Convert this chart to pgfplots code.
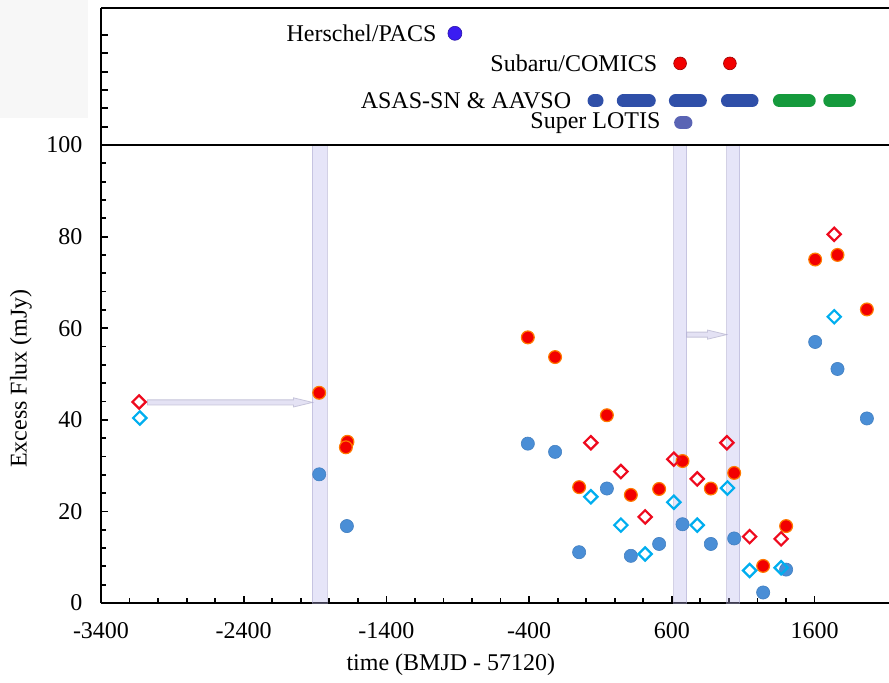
\documentclass[border=0pt]{standalone}
\usepackage{fontspec}
\setmainfont{Liberation Serif}
\usepackage{pgfplots}
\pgfplotsset{compat=1.18}
\usetikzlibrary{arrows.meta}

\definecolor{redc}{HTML}{F20000}
\definecolor{redcedge}{HTML}{FF7A00}
\definecolor{bluec}{HTML}{4A8ED6}
\definecolor{redd}{HTML}{EE0A1E}
\definecolor{cyand}{HTML}{00AEEF}
\definecolor{band}{HTML}{B8B4EC}
\definecolor{arrowfill}{HTML}{E4E2F4}
\definecolor{arrowedge}{HTML}{C6C4DA}
\definecolor{herschel}{HTML}{3A1CF2}
\definecolor{asas}{HTML}{2F4FA8}
\definecolor{aavso}{HTML}{159A3C}
\definecolor{lotis}{HTML}{5A64B4}

\begin{document}
\begin{tikzpicture}
\pgfplotsset{
  panel/.style={
    scale only axis, width=394pt,
    xmin=-3400, xmax=2122,
    axis x line=box, axis y line=left,
    axis line style={line width=1.4pt, -},
    tick align=inside,
    tick style={line width=0.9pt, black},
    major tick length=3.6pt, minor tick length=2.5pt,
    xtick pos=left, ytick pos=left,
    ticklabel style={font=\rmfamily\fontsize{12}{14}\selectfont},
    label style={font=\rmfamily\fontsize{12}{14}\selectfont},
    xticklabel={\pgfmathprintnumber[assume math mode=true, 1000 sep={}, fixed]{\tick}},
    yticklabel={\pgfmathprintnumber[assume math mode=true, 1000 sep={}, fixed]{\tick}},
  },
}

% main panel
\begin{axis}[panel, name=main, at={(0,0)}, anchor=south west,
  height=229pt, ymin=0, ymax=100,
  xtick={-3400,-2400,...,1600}, minor x tick num=4,
  ytick={0,20,...,100}, minor y tick num=4,
  xticklabel shift=6.3pt, yticklabel shift=5.8pt,
  xlabel={time (BMJD - 57120)},
  ylabel={Excess Flux (mJy)},
  xlabel style={at={([yshift=-31pt]axis description cs:0.444,0)}, anchor=center},
  ylabel style={at={([xshift=-40pt]axis description cs:0,0.49)}, anchor=center},
]
% arrows
\addplot[draw=arrowedge, fill=arrowfill, line width=0.4pt] coordinates {
  (-3074,44.35) (-2051,44.35) (-2051,44.8) (-1918,43.8) (-2051,42.8) (-2051,43.25) (-3074,43.25)} -- cycle;
\addplot[draw=arrowedge, fill=arrowfill, line width=0.4pt] coordinates {
  (705,59.15) (850,59.15) (850,59.6) (984,58.6) (850,57.6) (850,58.05) (705,58.05)} -- cycle;

% blue filled circles
\addplot[only marks, mark=*, mark size=3.3pt, mark options={fill=bluec, draw=bluec!90!black, line width=0.3pt}] coordinates {
  (-1871,28.1) (-1677,16.8) (-409,34.8) (-218,33.0) (145,25.0) (675,17.2)
  (511,12.9) (873.5,12.9) (1037,14.1) (-49.5,11.1) (313,10.3)
  (1604.5,57.0) (1761,51.1) (1967,40.3) (1401,7.3) (1240,2.3)};
% red filled circles
\addplot[only marks, mark=*, mark size=3.2pt, mark options={fill=redc, draw=redcedge, line width=0.6pt}] coordinates {
  (-1871,45.9) (-1673,35.2) (-1684,34.0) (-409,58.0) (-218,53.7) (145,41.0)
  (675,31.0) (-49.5,25.3) (313,23.6) (511,24.9) (873.5,25.0) (1037,28.4)
  (1604.5,75.0) (1761,76.0) (1967,64.1) (1401,16.8) (1240,8.1)};
% red open diamonds
\addplot[only marks, mark=square, mark size=2.35pt, mark options={rotate=45, draw=redd, fill=white, line width=1.1pt}] coordinates {
  (-3133,43.9) (32.5,35.0) (614,31.4) (243,28.7) (778,27.1) (986,35.0)
  (413,18.8) (1738,80.5) (1145,14.5) (1366,14.0)};
% cyan open diamonds
\addplot[only marks, mark=square, mark size=2.35pt, mark options={rotate=45, draw=cyand, fill=white, line width=1.1pt}] coordinates {
  (-3128,40.4) (32.5,23.2) (614,22.0) (990,25.1) (243,17.0) (778,17.0)
  (413,10.7) (1738,62.5) (1145,7.1) (1366,7.7)};

% shaded epochs
\addplot[draw=band!70!gray, fill=band, fill opacity=0.35, draw opacity=0.5, line width=0.5pt] coordinates {(-1918,0) (-1813,0) (-1813,100) (-1918,100)} -- cycle;
\addplot[draw=band!70!gray, fill=band, fill opacity=0.35, draw opacity=0.5, line width=0.5pt] coordinates {(612,0) (705,0) (705,100) (612,100)} -- cycle;
\addplot[draw=band!70!gray, fill=band, fill opacity=0.35, draw opacity=0.5, line width=0.5pt] coordinates {(984,0) (1075,0) (1075,100) (984,100)} -- cycle;
\end{axis}

% observing timeline panel
\begin{axis}[panel, name=top, at={(main.north west)}, anchor=south west,
  height=68.5pt, ymin=0, ymax=7.47,
  xtick=\empty, ytick={1,...,6}, yticklabels={},
]
\addplot[only marks, mark=*, mark size=3.5pt, mark options={fill=herschel, draw=herschel!70!black, line width=0.3pt}] coordinates {(-920,6.09)};
\addplot[only marks, mark=*, mark size=3.2pt, mark options={fill=red!95!black, draw=red!60!black, line width=0.3pt}] coordinates {(658,4.45) (1007,4.45)};
\addplot[asas, line width=6.5pt, line cap=round] coordinates {(55,2.4) (76,2.4)};
\addplot[asas, line width=6.5pt, line cap=round] coordinates {(260,2.4) (442,2.4)};
\addplot[asas, line width=6.5pt, line cap=round] coordinates {(625,2.4) (800,2.4)};
\addplot[asas, line width=6.5pt, line cap=round] coordinates {(990,2.4) (1162,2.4)};
\addplot[aavso, line width=6.5pt, line cap=round] coordinates {(1354,2.4) (1563,2.4)};
\addplot[aavso, line width=6.5pt, line cap=round] coordinates {(1707,2.4) (1844,2.4)};
\addplot[lotis, line width=6.5pt, line cap=round] coordinates {(662,1.2) (699,1.2)};
\node[anchor=east, font=\fontsize{12}{14}\selectfont, inner sep=0pt] at (axis cs:-1047,6.09) {Herschel/PACS};
\node[anchor=east, font=\fontsize{12}{14}\selectfont, inner sep=0pt] at (axis cs:500,4.45) {Subaru/COMICS};
\node[anchor=east, font=\fontsize{12}{14}\selectfont, inner sep=0pt] at (axis cs:-103,2.4) {ASAS-SN \& AAVSO};
\node[anchor=east, font=\fontsize{12}{14}\selectfont, inner sep=0pt] at (axis cs:523,1.2) {Super LOTIS};
\end{axis}

\pgfresetboundingbox
\fill[black!3] ([shift={(-50.5pt,242.5pt)}]main.south west) rectangle ([shift={(-6.5pt,301.5pt)}]main.south west);
\path[use as bounding box] ([shift={(-50.5pt,-39.5pt)}]main.south west) rectangle ([shift={(0pt,72.5pt)}]main.north east);
\end{tikzpicture}
\end{document}
